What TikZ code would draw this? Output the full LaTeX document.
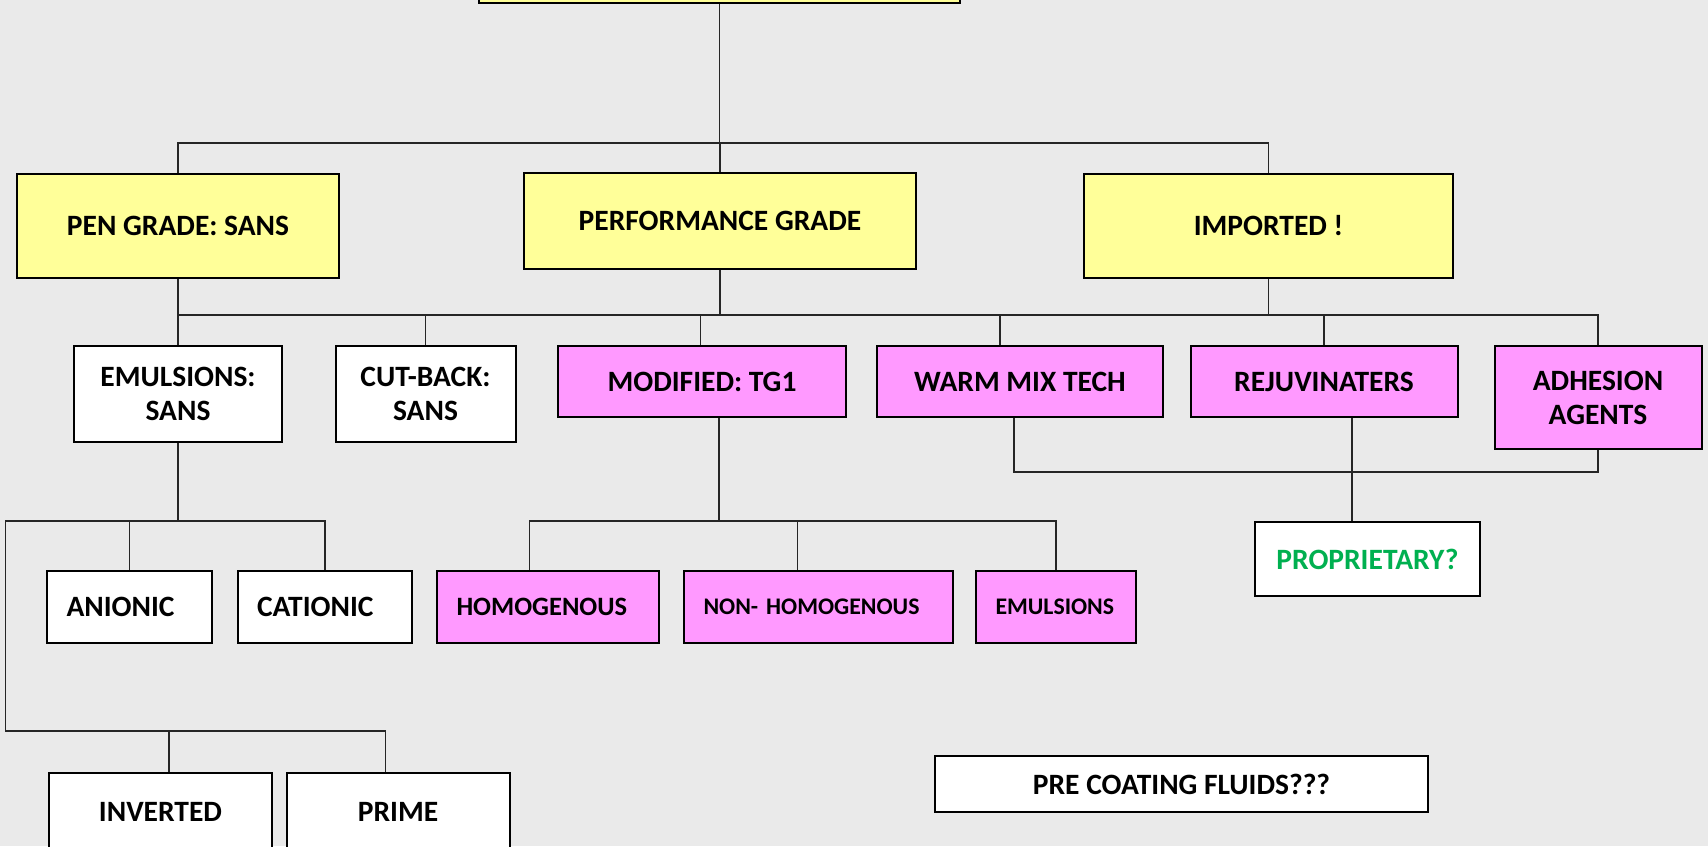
\documentclass[tikz,border=0pt]{standalone}
\usepackage{fontspec}
\setmainfont{Carlito}
\usepackage{xcolor}
\usepackage{tikz}
\usetikzlibrary{positioning}
\definecolor{bgray}{HTML}{EAEAEA}
\definecolor{lemon}{HTML}{FFFF99}
\definecolor{orchid}{HTML}{FF99FF}
\definecolor{propgreen}{HTML}{00B050}

\begin{document}
\begin{tikzpicture}[x=1pt,y=-1pt,
  box/.style={draw=black,fill=#1,line width=2pt,align=center,inner sep=2pt,
              font=\bfseries\fontsize{29.5}{34}\selectfont},
  flush/.style={align=left,text width=#1,inner xsep=19.5pt},
  mid/.style={font=\bfseries\fontsize{26.5}{30}\selectfont},
  small/.style={font=\bfseries\fontsize{23.8}{27}\selectfont},
  link/.style={line width=1.7pt,black!85}]
\fill[bgray] (0,0) rectangle (1708,846);
\useasboundingbox (0,0) rectangle (1708,846);
% grades
\node[box=lemon,minimum width=481pt,minimum height=80pt] (top) at (719.5,-37) {};
\node[box=lemon,minimum width=322pt,minimum height=104pt] (pen) at (178,226) {PEN GRADE: SANS};
\node[box=lemon,minimum width=392pt,minimum height=96pt] (perf) at (720,221) {PERFORMANCE GRADE};
\node[box=lemon,minimum width=369pt,minimum height=104pt] (imp) at (1268.5,226) {IMPORTED !};
% products
\node[box=white,minimum width=208pt,minimum height=96pt] (emu) at (178,394) {EMULSIONS:\\SANS};
\node[box=white,minimum width=180pt,minimum height=96pt] (cut) at (425.5,394) {CUT-BACK:\\SANS};
\node[box=orchid,minimum width=288pt,minimum height=71pt] (mod) at (702,381.5) {MODIFIED: TG1};
\node[box=orchid,minimum width=286pt,minimum height=71pt] (warm) at (1020,381.5) {WARM MIX TECH};
\node[box=orchid,minimum width=267pt,minimum height=71pt] (rejuv) at (1324,381.5) {REJUVINATERS};
\node[box=orchid,minimum width=207pt,minimum height=103pt] (adh) at (1598,397.5) {ADHESION\\AGENTS};
\node[box=white,text=propgreen,minimum width=225pt,minimum height=74pt] (prop) at (1367.5,559) {PROPRIETARY?};
% sub types
\node[box=orchid,mid,flush=183pt,minimum height=72pt] (homog) at (548,607) {HOMOGENOUS};
\node[box=orchid,small,flush=230pt,minimum height=72pt] (nonhomog) at (818.5,607) {NON- HOMOGENOUS};
\node[box=orchid,small,flush=121pt,minimum height=72pt] (emul) at (1056,607) {EMULSIONS};
\node[box=white,flush=126pt,minimum height=72pt] (anion) at (129.5,607) {ANIONIC};
\node[box=white,flush=135.5pt,minimum height=72pt] (cation) at (324.75,607) {CATIONIC};
\node[box=white,minimum width=223pt,minimum height=77pt] (inv) at (160.5,811.5) {INVERTED};
\node[box=white,minimum width=223pt,minimum height=77pt] (prime) at (398,811.5) {PRIME};
\node[box=white,minimum width=493pt,minimum height=55.5pt] (precoat) at (1181.5,784) {PRE COATING FLUIDS???};
% first level
\coordinate (bus1) at (719.5,143);
\draw[link] (top.south) -- (bus1);
\draw[link] (pen.north) |- (bus1) -| (imp.north);
\draw[link] (perf.north) -- (perf.north |- bus1);
% second level
\coordinate (bus2) at (178,315);
\draw[link] (pen.south) -- (emu.north);
\draw[link] (bus2) -| (adh.north);
\draw[link] (perf.south) -- (perf.south |- bus2);
\draw[link] (imp.south) -- (imp.south |- bus2);
\foreach \n/\dx in {cut/0,mod/-1.5,warm/-20,rejuv/0}
  \draw[link] ([xshift=\dx pt]\n.north) -- ([xshift=\dx pt]\n.north |- bus2);
% warm mix, rejuvinaters, adhesion
\coordinate (bus3) at (1014,472);
\draw[link] ([xshift=-6pt]warm.south) |- (adh.south |- bus3) -- (adh.south);
\draw[link] ([xshift=28pt]rejuv.south) -- ([xshift=28pt]rejuv.south |- prop.north);
% modified
\coordinate (bus4) at (719,521);
\draw[link] ([xshift=17pt]mod.south) -- (bus4);
\draw[link] ([xshift=-18.6pt]homog.north) |- (bus4) -| (emul.north);
\draw[link] ([xshift=-21pt]nonhomog.north) -- ([xshift=-21pt]nonhomog.north |- bus4);
% emulsions
\coordinate (bus5) at (5.4,521);
\coordinate (bus6) at (5.4,731);
\draw[link] (emu.south) -- (emu.south |- bus5);
\draw[link] (cation.north) |- (bus5) -- (bus6) -| ([xshift=-12.4pt]prime.north);
\draw[link] (anion.north) -- (anion.north |- bus5);
\draw[link] ([xshift=8.3pt]inv.north) -- ([xshift=8.3pt]inv.north |- bus6);
\end{tikzpicture}
\end{document}
